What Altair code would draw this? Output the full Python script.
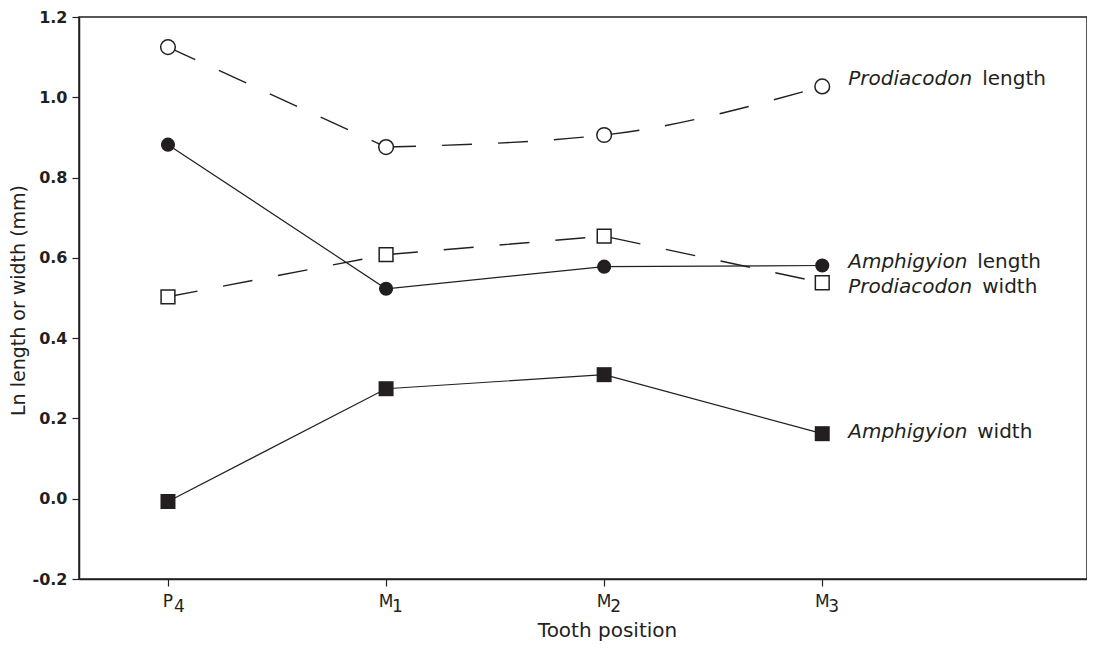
import altair as alt
import pandas as pd

# ---- data ----
positions = [1, 2, 3, 4]
tick_letters = ["P", "M", "M", "M"]
tick_digits = ["4", "1", "2", "3"]

prodiacodon_length = [1.125, 0.876, 0.906, 1.027]
amphigyion_length = [0.882, 0.523, 0.578, 0.581]
prodiacodon_width = [0.503, 0.608, 0.654, 0.538]
amphigyion_width = [-0.007, 0.274, 0.309, 0.162]

series_names = ["Prodiacodon length", "Amphigyion length",
                "Prodiacodon width", "Amphigyion width"]
y_ticks = [-0.2, 0.0, 0.2, 0.4, 0.6, 0.8, 1.0, 1.2]

# ---- build tables ----
series_values = [prodiacodon_length, amphigyion_length,
                 prodiacodon_width, amphigyion_width]
rows = []
for name, vals in zip(series_names, series_values):
    for p, v in zip(positions, vals):
        rows.append({"series": name, "pos": p, "value": v})
df = pd.DataFrame(rows)

YMIN, YMAX = -0.2, 1.2
ticks_df = pd.DataFrame({"pos": positions, "letter": tick_letters,
                         "digit": tick_digits, "y": [YMIN] * 4})

# label nudges (data units) to keep labels readable
nudge = {"Prodiacodon length": 0.019, "Amphigyion length": 0.009,
         "Prodiacodon width": -0.010, "Amphigyion width": 0.005}
lab_rows = []
for name, vals in zip(series_names, series_values):
    genus, word = name.split(" ")
    lab_rows.append({"series": name, "genus": genus, "word": word,
                     "pos": positions[-1], "ly": vals[-1] + nudge[name]})
lab_df = pd.DataFrame(lab_rows)

ink = "#231f20"
FONT = "DejaVu Sans"

xscale = alt.Scale(domain=[0.592, 5.214], nice=False, zero=False)
yscale = alt.Scale(domain=[YMIN, YMAX], nice=False, zero=False)

x_enc = alt.X("pos:Q", scale=xscale,
              axis=alt.Axis(values=positions, labels=False, tickSize=7,
                            title="Tooth position", titleX=528, titleY=57,
                            titleBaseline="alphabetic", titleAlign="center",
                            titleFontSize=20))
y_enc = alt.Y("value:Q", scale=yscale,
              axis=alt.Axis(values=y_ticks, tickSize=7, labelPadding=5,
                            labelExpr="datum.value < 0 ? '-' + format(-datum.value, '.1f') : format(datum.value, '.1f')",
                            title="Ln length or width (mm)", titleX=-55, titleY=283,
                            titleAngle=270, titleBaseline="alphabetic",
                            titleAlign="center", titleFontSize=19))

base = alt.Chart(df).encode(x=x_enc, y=y_enc)

def sel(name):
    return alt.datum.series == name

DASH = [30, 26]
line_pl_a = base.transform_filter(sel("Prodiacodon length")).transform_filter(
    alt.datum.pos <= 2).mark_line(color=ink, strokeWidth=1.4, strokeDash=DASH)
line_pl_b = base.transform_filter(sel("Prodiacodon length")).transform_filter(
    alt.datum.pos >= 2).mark_line(color=ink, strokeWidth=1.4, strokeDash=DASH,
                                  interpolate="monotone")
line_pw = base.transform_filter(sel("Prodiacodon width")).mark_line(
    color=ink, strokeWidth=1.4, strokeDash=DASH)
line_al = base.transform_filter(sel("Amphigyion length")).mark_line(
    color=ink, strokeWidth=1.2)
line_aw = base.transform_filter(sel("Amphigyion width")).mark_line(
    color=ink, strokeWidth=1.2)

pt_pl = base.transform_filter(sel("Prodiacodon length")).mark_point(
    shape="circle", filled=True, fill="white", stroke=ink, strokeWidth=1.5,
    size=215, opacity=1)
pt_pw = base.transform_filter(sel("Prodiacodon width")).mark_point(
    shape="square", filled=True, fill="white", stroke=ink, strokeWidth=1.5,
    size=190, opacity=1)
pt_al = base.transform_filter(sel("Amphigyion length")).mark_point(
    shape="circle", filled=True, color=ink, size=200, opacity=1)
pt_aw = base.transform_filter(sel("Amphigyion width")).mark_point(
    shape="square", filled=True, color=ink, size=225, opacity=1)

# x tick labels with subscripts
tick_base = alt.Chart(ticks_df).encode(
    x=alt.X("pos:Q", scale=xscale), y=alt.Y("y:Q", scale=yscale))
tick_letter = tick_base.mark_text(align="center", baseline="alphabetic", dy=28,
                                  fontSize=17, font=FONT, color=ink).encode(
    text="letter:N")
tick_digit = tick_base.mark_text(align="left", baseline="alphabetic", dx=6, dy=33,
                                 fontSize=17, font=FONT, color=ink).encode(
    text="digit:N")

# series labels
lab_base = alt.Chart(lab_df).encode(
    x=alt.X("pos:Q", scale=xscale), y=alt.Y("ly:Q", scale=yscale))
lab_genus = lab_base.mark_text(align="left", baseline="middle", dx=26,
                               fontSize=20, font=FONT, fontStyle="italic",
                               color=ink).encode(text="genus:N")
lab_word_a = lab_base.transform_filter(alt.datum.genus == "Amphigyion").mark_text(
    align="left", baseline="middle", dx=155, fontSize=20, font=FONT,
    color=ink).encode(text="word:N")
lab_word_p = lab_base.transform_filter(alt.datum.genus == "Prodiacodon").mark_text(
    align="left", baseline="middle", dx=160, fontSize=20, font=FONT,
    color=ink).encode(text="word:N")

chart = alt.layer(
    line_pl_a, line_pl_b, line_pw, line_al, line_aw,
    pt_pl, pt_pw, pt_al, pt_aw,
    tick_letter, tick_digit,
    lab_genus, lab_word_a, lab_word_p,
).properties(
    width=1008, height=562,
    autosize=alt.AutoSizeParams(type="none"),
    padding={"left": 71, "top": 9, "right": 0, "bottom": 62},
    background="white",
).configure_view(
    stroke=ink, strokeWidth=1.5
).configure_axis(
    grid=False,
    domainColor=ink, domainWidth=1.5,
    tickColor=ink, tickWidth=1.2,
    labelFont=FONT, labelFontSize=16, labelFontWeight="bold", labelColor=ink,
    titleFont=FONT, titleFontWeight="normal", titleColor=ink,
)

chart.save("out.html", embed_options={"renderer": "svg", "actions": False})
